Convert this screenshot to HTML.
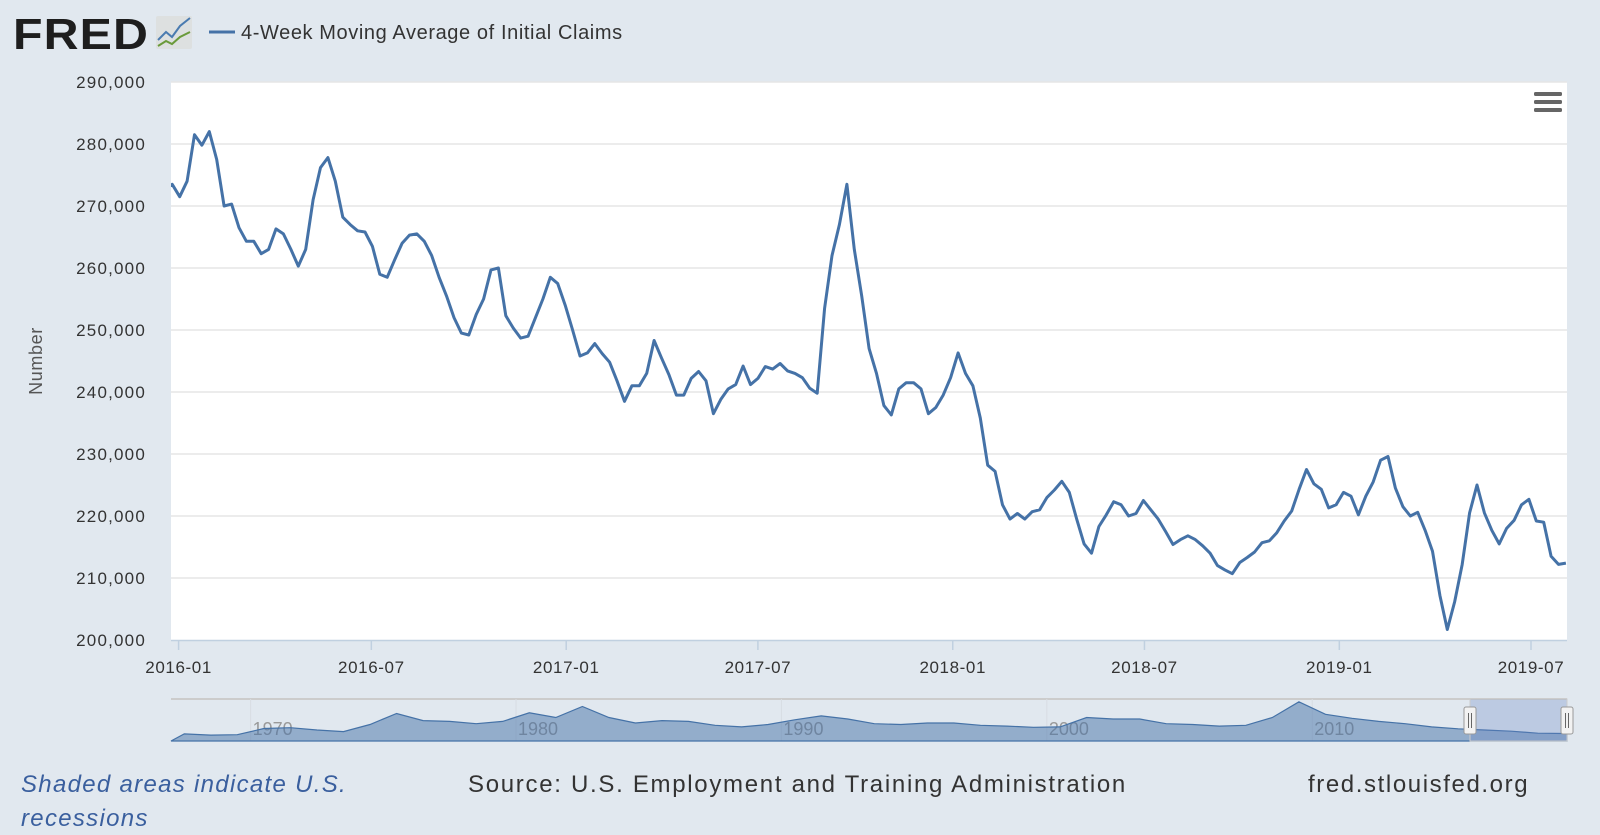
<!DOCTYPE html>
<html><head><meta charset="utf-8">
<style>
body{margin:0;background:#e1e8ef;width:1600px;height:835px;overflow:hidden;font-family:"Liberation Sans","DejaVu Sans",sans-serif;}
svg{position:absolute;left:0;top:0}
</style></head>
<body>
<svg id="c" width="1600" height="835">
  <g>
    <text x="13" y="49" font-family="Liberation Sans" font-weight="bold" font-size="44" fill="#1e1e1e" letter-spacing="1" textLength="136" lengthAdjust="spacingAndGlyphs">FRED</text>
    <rect x="156" y="16" width="36" height="33" fill="#dde0e0" rx="2"/>
    <polyline points="158,40 166,32 172,37 180,26 190,18" fill="none" stroke="#4a7bb0" stroke-width="2"/>
    <polyline points="158,46 166,41 172,44 180,37 190,32" fill="none" stroke="#6a9a3a" stroke-width="2"/>
  </g>
  <line x1="209" y1="32" x2="235" y2="32" stroke="#4572a7" stroke-width="3"/>
  <text x="241" y="39" font-size="20" fill="#333" letter-spacing="0.6">4-Week Moving Average of Initial Claims</text>
  <rect x="171" y="82" width="1396" height="558" fill="#fff"/>
  <g id="grid"></g>
  <g id="yt"></g>
  <g id="xt"></g>
  <text transform="translate(42,361) rotate(-90)" text-anchor="middle" font-size="18" fill="#555" letter-spacing="0.6">Number</text>
  <path id="line" fill="none" stroke="#4572a7" stroke-width="3" stroke-linejoin="round" clip-path="url(#clip)"/>
  <defs><clipPath id="clip"><rect x="171" y="82" width="1396" height="558"/></clipPath></defs>
  <g>
    <rect x="1534" y="92" width="28" height="4" rx="1.5" fill="#666"/>
    <rect x="1534" y="100" width="28" height="4" rx="1.5" fill="#666"/>
    <rect x="1534" y="108" width="28" height="4" rx="1.5" fill="#666"/>
  </g>
  <g id="nav"></g>
  <text x="21" y="792" font-size="24" font-style="italic" fill="#3a5f9e" letter-spacing="1.3">Shaded areas indicate U.S.</text>
  <text x="21" y="826" font-size="24" font-style="italic" fill="#3a5f9e" letter-spacing="1.3">recessions</text>
  <text x="468" y="792" font-size="24" fill="#333" letter-spacing="1.7">Source: U.S. Employment and Training Administration</text>
  <text x="1308" y="792" font-size="24" fill="#333" letter-spacing="1.6">fred.stlouisfed.org</text>
</svg>
<script>
const startDate = "2015-12-19";
const values = [272.5,273.5,271.5,274,281.5,279.8,282,277.5,270,270.3,
266.5,264.3,264.3,262.3,263,266.3,265.5,263,260.3,263,
271,276.2,277.8,274,268.2,267,266,265.8,263.5,259,
258.5,261.3,264,265.3,265.5,264.3,262,258.5,255.5,
252,249.5,249.2,252.5,255,259.7,260,252.3,250.3,248.7,
249,252,255,258.5,257.5,254,250,245.8,246.3,247.8,246.2,
244.8,241.8,238.5,241,241,243,248.3,245.5,242.8,239.5,
239.5,242.2,243.3,241.8,236.5,238.8,240.5,241.2,244.2,241.2,
242.2,244.1,243.7,244.6,243.4,243,242.3,240.6,239.8,
253.5,262,267,273.5,263,255.5,247,243,237.8,236.3,
240.5,241.5,241.5,240.5,236.5,237.5,239.5,242.3,246.3,243,
241,235.8,228.2,227.2,221.8,219.5,220.4,219.5,220.7,221,
223,224.2,225.6,223.8,219.5,215.5,214,218.3,220.2,222.3,
221.8,220,220.4,222.5,221,219.5,217.5,215.4,216.2,216.8,
216.2,215.2,214,212,211.3,210.7,212.5,213.3,214.2,215.7,
216,217.3,219.2,220.8,224.3,227.5,225.2,224.3,221.3,221.8,
223.8,223.2,220.2,223.2,225.5,229,229.6,224.5,221.5,220,
220.6,217.7,214.3,207.2,201.7,206.2,212.2,220.5,225,220.5,
217.7,215.5,218,219.3,221.8,222.7,219.2,219,213.5,212.2,212.4];
const yTicks = [200000,210000,220000,230000,240000,250000,260000,270000,280000,290000];
const xTickLabels = ["2016-01","2016-07","2017-01","2017-07","2018-01","2018-07","2019-01","2019-07"];
const navYears = [1967,1968,1969,1970,1971,1972,1973,1974,1975,1976,1977,1978,1979,1980,1981,1982,1983,1984,1985,1986,1987,1988,1989,1990,1991,1992,1993,1994,1995,1996,1997,1998,1999,2000,2001,2002,2003,2004,2005,2006,2007,2008,2009,2010,2011,2012,2013,2014,2015,2016,2017,2018,2019];
const navValues = [210,195,200,280,290,260,240,330,470,380,370,340,370,480,420,560,420,350,380,370,320,300,330,390,440,400,340,330,350,350,320,310,295,300,420,400,400,340,330,310,320,420,620,460,410,370,340,300,275,260,245,220,215];
const navLabels = ["1970","1980","1990","2000","2010"];

const NS="http://www.w3.org/2000/svg";
const L=171,R=1567,T=82,B=640;
const d0=Date.parse("2016-01-01"),d1=Date.parse("2019-07-01");
const xS=t=>178.6+(t-d0)/(d1-d0)*(1531-178.6);
const yS=v=>B-(v-200000)/90000*(B-T);
function mk(tag,attrs,parent){const e=document.createElementNS(NS,tag);for(const k in attrs)e.setAttribute(k,attrs[k]);parent.appendChild(e);return e;}
const grid=document.getElementById('grid'),yt=document.getElementById('yt'),xt=document.getElementById('xt');
yTicks.forEach(v=>{
  const y=yS(v);
  if(v>200000){const g=mk('line',{x1:L,x2:R,y1:y,y2:y,stroke:'#e6e6e6','stroke-width':1.5},grid);
  
  }
  const t=mk('text',{x:146,y:y+6,'text-anchor':'end','font-size':17,fill:'#333','letter-spacing':1.2},yt);
  t.textContent=v.toLocaleString('en-US');
  
  
});
mk('line',{x1:L,x2:R,y1:B+0.5,y2:B+0.5,stroke:'#c0d0e0','stroke-width':1.5},xt);
xTickLabels.forEach(s=>{
  const x=xS(Date.parse(s+"-01"));
  mk('line',{x1:x,x2:x,y1:B,y2:B+10,stroke:'#c0d0e0','stroke-width':1.5},xt);
  const t=mk('text',{x:x,y:673,'text-anchor':'middle','font-size':17,fill:'#333','letter-spacing':0.6},xt);
  t.textContent=s;
  
  
});
const s0=Date.parse(startDate);
let dp='';
values.forEach((v,i)=>{const x=xS(s0+i*7*864e5),y=yS(v*1000);dp+=(i?'L':'M')+x.toFixed(1)+','+y.toFixed(1);});
document.getElementById('line').setAttribute('d',dp);

// navigator
const nav=document.getElementById('nav');
const NT=699,NB=741;
const nx=yr=>L+(yr-1967)/(2019.6-1967)*(R-L);
const ny=v=>NB-(v-120)/(630-120)*(NB-NT-2);
mk('line',{x1:L,x2:R,y1:NT,y2:NT,stroke:'#ccc','stroke-width':2},nav);
navLabels.forEach(s=>{const x=nx(+s);mk('line',{x1:x,x2:x,y1:NT,y2:NB,stroke:'#d8dde3'},nav);
  const t=mk('text',{x:x+2,y:735,'font-size':18,fill:'#999'},nav);t.textContent=s;
  
  });
let ap='M'+L+','+NB;
navYears.forEach((yr,i)=>{ap+='L'+nx(yr+0.5).toFixed(1)+','+ny(navValues[i]).toFixed(1);});
ap+='L'+R+','+ny(navValues[navValues.length-1]).toFixed(1)+'L'+R+','+NB+'Z';
mk('path',{d:ap,fill:'rgba(69,114,167,0.5)',stroke:'#4572a7','stroke-width':1.2},nav);
const sx=1470;
mk('rect',{x:sx,y:NT,width:R-sx,height:NB-NT,fill:'rgba(102,133,194,0.3)',stroke:'#ccc'},nav);
[sx,R].forEach(x=>{const h=mk('rect',{x:x-6,y:707,width:12,height:27,fill:'#f2f2f2',stroke:'#999',rx:2},nav);
  
  
  mk('line',{x1:x-1.5,x2:x-1.5,y1:713,y2:728,stroke:'#666'},nav);
  mk('line',{x1:x+1.5,x2:x+1.5,y1:713,y2:728,stroke:'#666'},nav);});
</script>
</body></html>
